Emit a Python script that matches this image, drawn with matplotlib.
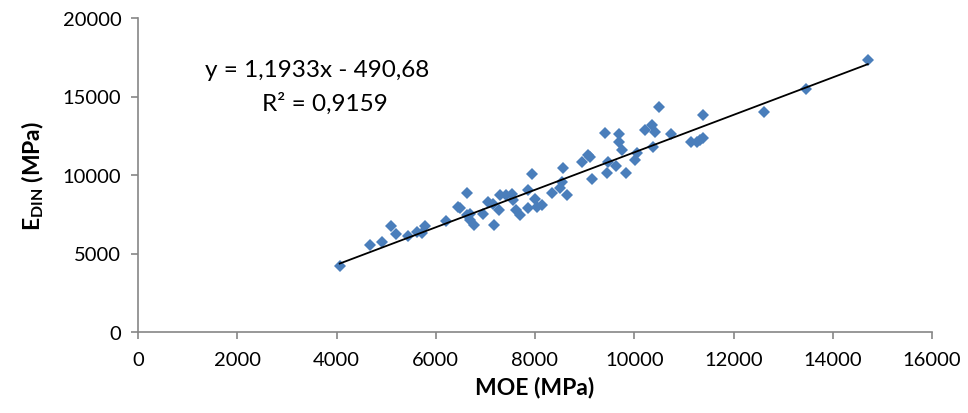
import numpy as np
import matplotlib
matplotlib.use("Agg")
import matplotlib.pyplot as plt

# MOE (MPa) vs dynamic modulus E_DIN (MPa)
moe = [4065, 4677, 4919, 5095, 5190, 5431, 5625, 5714, 5780, 6198,
       6452, 6486, 6621, 6621, 6688, 6768, 6956, 7056, 7177, 7278,
       7292, 7413, 7528, 7560, 7615, 7696, 7863, 7931, 7863, 7998,
       8032, 8133, 8335, 8502, 8536, 8556, 8637, 8940, 9073, 9141,
       9409, 9443, 9476, 9631, 9698, 9698, 9746, 9833, 10014, 10048,
       10216, 10351, 10417, 10371, 10504, 10734, 11143, 11258, 11325, 11391,
       11391, 12621, 13462, 14706, 6700, 7150, 9100]
edin = [4178, 5561, 5732, 6752, 6261, 6134, 6369, 6306, 6752, 7045,
        7962, 7898, 8873, 7427, 7535, 6834, 7535, 8280, 6790, 7745,
        8701, 8701, 8809, 8382, 7745, 7471, 9019, 10083, 7898, 8446,
        7962, 8108, 8873, 9172, 9554, 10446, 8701, 10828, 11248, 9764,
        12675, 10127, 10828, 10548, 12592, 12102, 11611, 10127, 10930, 11401,
        12841, 13159, 12739, 11783, 14331, 12592, 12102, 12102, 12204, 12357,
        13796, 14013, 15497, 17299, 7150, 8150, 11150]

# linear trendline shown on the chart
slope = 1.1933
intercept = -490.68
r2 = 0.9159

plt.rcParams["font.family"] = ["Lato", "DejaVu Sans"]
plt.rcParams["mathtext.fontset"] = "custom"
plt.rcParams["mathtext.bf"] = "Lato:bold"
plt.rcParams["mathtext.rm"] = "Lato"

fig = plt.figure(figsize=(9.68, 4.14), dpi=100)
ax = fig.add_axes([138 / 968, 1 - 333 / 414, (932 - 138) / 968, (333 - 19) / 414])

ax.plot(moe, edin, linestyle="none", marker="D", markersize=5.8,
        color="#4A7EBB", markeredgewidth=0)

x_fit = np.array([min(moe), max(moe)])
ax.plot(x_fit, slope * x_fit + intercept, color="black", linewidth=1.3)

ax.set_xlim(0, 16000)
ax.set_ylim(0, 20000)
ax.set_xticks(np.arange(0, 16001, 2000))
ax.set_yticks(np.arange(0, 20001, 5000))

for s in ["top", "right"]:
    ax.spines[s].set_visible(False)
for s in ["left", "bottom"]:
    ax.spines[s].set_color("#868686")
    ax.spines[s].set_linewidth(1.2)
ax.tick_params(direction="out", length=5, width=1.2, color="#868686",
               labelsize=14.5, labelcolor="black")
ax.tick_params(axis="x", pad=9)
ax.tick_params(axis="y", pad=7)

ax.set_xlabel("MOE (MPa)", fontsize=16.5, fontweight="bold", labelpad=5)
ax.set_ylabel(r"$\mathbf{E_{DIN}}$ (MPa)", fontsize=16.5, fontweight="bold", labelpad=12)

eq = "y = " + f"{slope:.4f}".replace(".", ",") + "x - " + f"{-intercept:.2f}".replace(".", ",")
ax.text(3600, 16700, eq, fontsize=17.5, ha="center", va="center")
ax.text(3760, 14600, "R² = " + f"{r2:.4f}".replace(".", ","), fontsize=17.5,
        ha="center", va="center")

fig.savefig("out.png", dpi=100)
